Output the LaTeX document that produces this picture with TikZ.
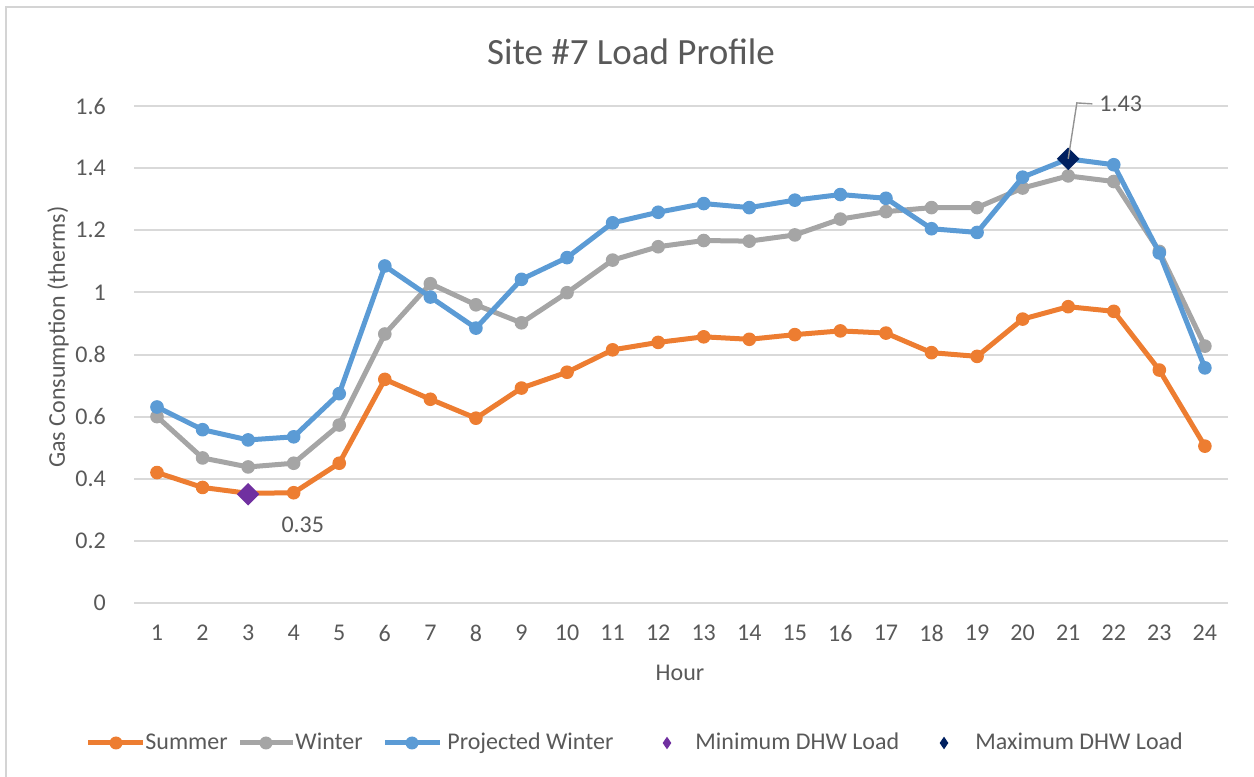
\documentclass[tikz,border=0pt]{standalone}
\usepackage{fontspec}
\setmainfont{Carlito}
\usepackage{xcolor}
\usepackage{tikz}
\usetikzlibrary{shapes.geometric}
\definecolor{sumorange}{HTML}{ED7D31}
\definecolor{wintgray}{HTML}{A5A5A5}
\definecolor{projblue}{HTML}{5B9BD5}
\definecolor{minpurple}{HTML}{7030A0}
\definecolor{maxnavy}{HTML}{002060}
\definecolor{gridgray}{HTML}{D9D9D9}
\definecolor{framegray}{HTML}{D4D4D4}
\definecolor{txtgray}{HTML}{595959}
\tikzset{
  chartfont/.style={font=\fontsize{12}{14}\selectfont, text=txtgray},
  titlefont/.style={font=\fontsize{18.5}{22}\selectfont},
  gridline/.style={draw=gridgray, line width=1pt},
  seriesbase/.style={line width=2.5pt, line join=round, mark=*, mark size=3.1pt,
    mark options={line width=0.6pt}},
  summerline/.style={seriesbase, color=sumorange},
  winterline/.style={seriesbase, color=wintgray},
  projline/.style={seriesbase, color=projblue},
  dhwmark/.style={diamond, draw=none, inner sep=0pt, minimum width=11.5pt, minimum height=11.5pt},
  legdhw/.style={dhwmark, minimum width=4.5pt, minimum height=6.5pt},
  calloutline/.style={draw=gray!85, line width=0.7pt},
  legline/.style={line width=2.5pt},
  legdot/.style={circle, inner sep=0pt, minimum size=6.5pt},
  legtext/.style={anchor=base west, inner sep=0pt},
}

\begin{document}
\begin{tikzpicture}[x=0.5pt, y=0.5pt, chartfont]
  \useasboundingbox (0,0) rectangle (1254,777);
  % Chart frame (top and left edge only)
  \draw[framegray, line width=1.2pt] (6,0) -- (6,770) -- (1254,770);

  % Title and axis titles
  \node[titlefont] (title) at (631,725) {Site \#7 Load Profile};
  \node[rotate=90] (ytitle) at (58,440) {Gas Consumption (therms)};
  \node (xtitle) at (680,104) {Hour};

  % Plot area: x in hours, y in therms
  \begin{scope}[shift={(55.72pt,87pt)}, x=22.78pt, y=155.3pt]
    \foreach \v/\t [count=\k] in {0/0, 0.2/0.2, 0.4/0.4, 0.6/0.6, 0.8/0.8, 1/1, 1.2/1.2, 1.4/1.4, 1.6/1.6} {
      \draw[gridline] (0.5,\v) -- (24.5,\v);
      \node[anchor=east] (ytick\k) at (0.03,\v) {\t};
    }
    \foreach \h in {1,...,24}
      \node (xtick\h) at (\h,-0.097) {\h};

    % Series
    \draw[summerline] plot coordinates {(1,0.42) (2,0.372) (3,0.353) (4,0.355) (5,0.45) (6,0.72)
      (7,0.656) (8,0.595) (9,0.692) (10,0.743) (11,0.815) (12,0.839) (13,0.857) (14,0.849)
      (15,0.864) (16,0.876) (17,0.869) (18,0.806) (19,0.794) (20,0.914) (21,0.954) (22,0.939)
      (23,0.75) (24,0.505)};
    \draw[winterline] plot coordinates {(1,0.60) (2,0.467) (3,0.438) (4,0.45) (5,0.573) (6,0.866)
      (7,1.028) (8,0.96) (9,0.902) (10,0.999) (11,1.104) (12,1.147) (13,1.167) (14,1.165)
      (15,1.185) (16,1.236) (17,1.26) (18,1.273) (19,1.273) (20,1.336) (21,1.375) (22,1.357)
      (23,1.132) (24,0.827)};
    \draw[projline] plot coordinates {(1,0.631) (2,0.558) (3,0.525) (4,0.535) (5,0.674) (6,1.085)
      (7,0.985) (8,0.885) (9,1.042) (10,1.112) (11,1.224) (12,1.258) (13,1.286) (14,1.273)
      (15,1.297) (16,1.315) (17,1.303) (18,1.205) (19,1.193) (20,1.371) (21,1.43) (22,1.411)
      (23,1.127) (24,0.757)};

    % DHW load markers and labels
    \node[dhwmark, fill=minpurple] (mindhw) at (3,0.35) {};
    \node[dhwmark, fill=maxnavy] (maxdhw) at (21,1.43) {};
    \node (minlabel) at (4.20,0.252) {0.35};
    \node[anchor=west] (maxlabel) at (21.53,1.607) {1.43};
    \coordinate (maxbend) at (21.19,1.61);
    \draw[calloutline] (maxdhw.center) -- (maxbend) -- (maxlabel.west);
  \end{scope}

  % Legend
  \draw[legline, sumorange] (88,34) -- (143,34);
  \node[legdot, fill=sumorange] (legsumdot) at (116,34) {};
  \node[legtext] (legsum) at (145,27) {Summer};
  \draw[legline, wintgray] (240,34) -- (293,34);
  \node[legdot, fill=wintgray] (legwintdot) at (266,34) {};
  \node[legtext] (legwint) at (295,27) {Winter};
  \draw[legline, projblue] (385,34) -- (440,34);
  \node[legdot, fill=projblue] (legprojdot) at (412,34) {};
  \node[legtext] (legproj) at (447,27) {Projected Winter};
  \node[legdhw, fill=minpurple] (legmin) at (667,34) {};
  \node[legtext] (legmintext) at (695,27) {Minimum DHW Load};
  \node[legdhw, fill=maxnavy] (legmax) at (944,34) {};
  \node[legtext] (legmaxtext) at (975,27) {Maximum DHW Load};
\end{tikzpicture}
\end{document}
